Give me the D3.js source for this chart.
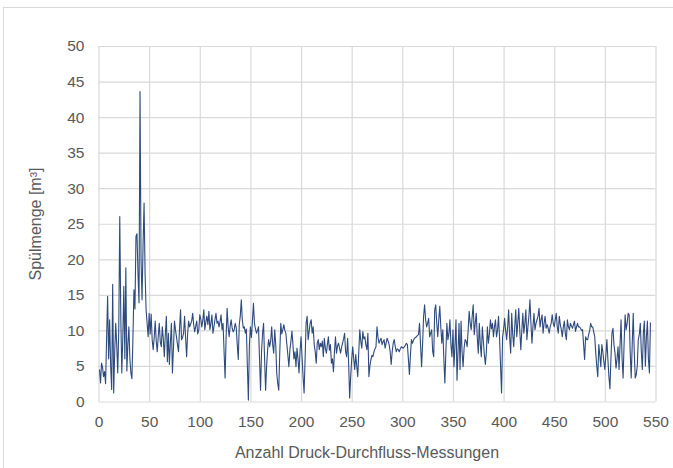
<!DOCTYPE html>
<html>
<head>
<meta charset="utf-8">
<script src="https://cdn.jsdelivr.net/npm/d3@7"></script>
<style>
  body { margin: 0; background: #fff; }
  text { font-family: "Liberation Sans", Arial, sans-serif; }
</style>
</head>
<body>
<div id="chart"></div>
<script>
const width = 673;
const height = 468;

// Spülmenge pro Messung (Messung 1, 2, 3, ...)
const spuelmenge = [
  4.5, 2.6, 5.4, 4.8, 3.5, 4.2, 2.5, 9, 14.8, 6,
  11.5, 5, 1.7, 16.5, 1.2, 7, 11, 8, 4, 10,
  26, 12, 4, 9, 16.2, 6, 18.8, 4.3, 8, 10.5,
  6, 4, 3.2, 9, 15.7, 13, 23.2, 23.6, 18, 13.9,
  43.6, 20, 14.3, 22, 27.9, 18, 12.9, 11, 9.1, 12.4,
  9.5, 12.3, 8.7, 7.3, 9.0, 11.3, 8.5, 7.0, 9.2, 11.0,
  8.4, 7.7, 10.5, 8.8, 6.3, 9.5, 12.0, 5.6, 9.6, 5.2,
  8.3, 11.0, 4.0, 7.5, 11.3, 10.1, 9.1, 8.0, 7.0, 10.2,
  12.9, 8.7, 9.0, 9.6, 12.0, 9.0, 6.3, 9.5, 11.3, 10.5,
  10.9, 11.3, 12.4, 10.8, 9.8, 10.6, 11.3, 9.5, 10.0, 12.2,
  11.6, 10.5, 11.4, 12.9, 10.1, 11.2, 12.0, 10.8, 12.7, 10.1,
  11.0, 12.2, 9.6, 10.5, 11.5, 12.4, 11.0, 11.3, 10.5, 11.2,
  12.2, 10.1, 11.0, 7.0, 3.3, 9.0, 13.1, 10.5, 9.1, 10.6,
  11.5, 10.3, 9.8, 10.1, 11.0, 10.4, 8.0, 5.9, 10.8, 12.0,
  14.3, 11.5, 10.3, 10.5, 9.6, 10.2, 5.0, 0.2, 8.0, 10.5,
  9.0, 11.3, 13.8, 11.0, 10.2, 9.6, 10.0, 10.5, 6.0, 1.6,
  7.0, 9.6, 11.0, 6.0, 1.6, 5.0, 7.3, 8.7, 7.7, 8.5,
  10.5, 8.0, 6.8, 10.1, 8.0, 4.0, 2.5, 1.6, 7.0, 11.0,
  9.5, 10.1, 10.8, 10.0, 9.6, 8.0, 6.5, 4.9, 7.3, 8.5,
  9.9, 8.0, 6.0, 7.0, 4.9, 7.5, 6.0, 4.0, 7.0, 9.1,
  6.3, 3.5, 1.2, 6.0, 11.0, 12.0, 8.7, 9.9, 11.0, 11.5,
  9.6, 10.5, 8.0, 7.0, 5.4, 8.2, 8.7, 7.3, 8.2, 7.7,
  8.5, 6.3, 8.9, 7.5, 6.8, 8.0, 9.1, 7.2, 8.0, 5.4,
  6.0, 4.2, 7.0, 9.1, 6.8, 7.8, 8.2, 7.5, 6.8, 7.6,
  8.2, 8.8, 9.6, 7.0, 6.3, 8.9, 5.4, 0.5, 3.5, 5.9,
  7.7, 6.0, 4.5, 6.6, 5.0, 3.5, 7.0, 10.1, 8.5, 7.5,
  9.85, 8.8, 9.1, 8.0, 7.3, 9.6, 3.5, 5.0, 5.9, 6.5,
  6.3, 7.0, 7.4, 7.7, 10.5, 9.0, 8.2, 8.6, 8.9, 8.0,
  8.4, 8.7, 7.5, 8.2, 8.9, 8.5, 8.0, 7.0, 5.2, 7.0,
  8.2, 8.7, 7.8, 7.0, 7.4, 7.3, 7.0, 7.4, 7.7, 7.6,
  7.5, 7.7, 7.9, 8.2, 8.0, 6.0, 3.8, 6.5, 8.7, 8.2,
  8.6, 8.9, 9.0, 9.1, 9.3, 9.4, 11.0, 8.0, 4.9, 8.0,
  12.0, 13.6, 11.5, 10.5, 11.0, 11.7, 9.1, 9.6, 10.1, 7.0,
  6.3, 12.9, 13.6, 11.0, 9.1, 11.5, 13.4, 10.5, 8.2, 10.1,
  6.0, 2.6, 7.0, 11.0, 8.7, 9.5, 11.5, 8.0, 6.3, 10.1,
  4.9, 8.0, 11.5, 3.0, 7.0, 11.0, 4.5, 11.3, 7.0, 4.9,
  7.5, 8.7, 8.5, 7.7, 10.0, 12.7, 11.0, 10.1, 12.0, 13.6,
  9.4, 11.0, 12.4, 9.0, 6.8, 11.0, 8.0, 6.3, 10.5, 8.5,
  6.6, 5.2, 7.0, 10.5, 8.2, 9.5, 11.5, 10.2, 11.0, 9.1,
  10.5, 11.5, 9.1, 10.0, 12.0, 9.0, 5.0, 1.2, 9.1, 10.1,
  11.7, 10.0, 8.7, 10.5, 12.9, 9.0, 6.8, 12.4, 9.5, 7.7,
  10.5, 12.9, 9.1, 11.0, 13.1, 10.0, 7.3, 10.0, 12.4, 9.6,
  11.0, 12.9, 8.7, 10.5, 12.0, 14.3, 11.0, 8.2, 10.5, 12.4,
  10.1, 11.0, 11.5, 12.0, 13.1, 10.5, 11.5, 12.2, 9.6, 11.0,
  12.0, 10.3, 10.8, 10.3, 9.6, 10.5, 11.0, 12.2, 11.0, 10.5,
  11.5, 12.4, 10.5, 9.6, 12.0, 10.8, 10.1, 9.1, 10.5, 11.3,
  9.5, 8.7, 11.5, 10.5, 10.1, 11.0, 10.6, 10.3, 10.8, 11.3,
  9.85, 10.5, 11.0, 10.5, 10.5, 10.3, 10.0, 10.1, 8.0, 5.9,
  9.1, 8.7, 8.7, 9.4, 10.0, 11.0, 10.5, 10.5, 9.8, 9.1,
  6.8, 5.0, 3.5, 8.0, 6.5, 4.9, 8.0, 7.0, 5.6, 4.5,
  6.5, 8.7, 5.9, 3.5, 1.8, 6.0, 9.6, 10.3, 8.0, 6.8,
  4.7, 6.0, 7.7, 4.5, 8.0, 11.5, 6.0, 3.3, 8.2, 12.2,
  10.1, 11.0, 12.4, 12.2, 7.0, 3.3, 8.0, 12.4, 7.0, 3.3,
  3.8, 5.0, 8.7, 9.4, 11.0, 7.0, 4.5, 9.6, 11.3, 5.0,
  9.0, 11.3, 6.0, 4.0, 11.1
];

const xTicks = [0, 50, 100, 150, 200, 250, 300, 350, 400, 450, 500, 550];
const yTicks = [0, 5, 10, 15, 20, 25, 30, 35, 40, 45, 50];
const xTitle = "Anzahl Druck-Durchfluss-Messungen";
const yTitle = "Spülmenge [m³]";

const svg = d3.select("#chart")
  .append("svg")
  .attr("width", width)
  .attr("height", height);

// outer chart frame (partly cut off in the original)
svg.append("rect")
  .attr("x", 3.5)
  .attr("y", 7.5)
  .attr("width", 720)
  .attr("height", 500)
  .attr("fill", "none")
  .attr("stroke", "#d9d9d9");

const x = d3.scaleLinear()
  .domain([0, 550])
  .range([98.5, 655.5]);

const y = d3.scaleLinear()
  .domain([0, 50])
  .range([401.5, 46]);

const plotW = x(550) - x(0);
const plotH = y(0) - y(50);

const yAxis = g => g
  .attr("transform", "translate(" + x(0) + ",0)")
  .call(d3.axisLeft(y).tickValues(yTicks).tickSize(-plotW).tickPadding(14))
  .call(g => g.select(".domain").remove());

const xAxis = g => g
  .attr("transform", "translate(0," + y(0) + ")")
  .call(d3.axisBottom(x).tickValues(xTicks).tickSize(-plotH).tickPadding(14))
  .call(g => g.select(".domain").remove());

svg.append("g").attr("class", "y-axis").call(yAxis);
svg.append("g").attr("class", "x-axis").call(xAxis);

svg.selectAll(".tick line")
  .attr("stroke", "#d9d9d9")
  .attr("stroke-width", 1.2);

svg.selectAll(".tick text")
  .attr("fill", "#595959")
  .style("font-size", "15.5px")
  .style("font-family", "'Liberation Sans', Arial, sans-serif");

const line = d3.line()
  .x((d, i) => x(i + 1))
  .y(d => y(d));

svg.append("path")
  .datum(spuelmenge)
  .attr("fill", "none")
  .attr("stroke", "#2e4a7d")
  .attr("stroke-width", 1.1)
  .attr("stroke-linejoin", "round")
  .attr("d", line);

svg.append("text")
  .attr("x", 367)
  .attr("y", 458)
  .attr("text-anchor", "middle")
  .attr("fill", "#595959")
  .style("font-size", "16px")
  .text(xTitle);

svg.append("text")
  .attr("transform", "translate(35,224) rotate(-90)")
  .attr("text-anchor", "middle")
  .attr("dy", "0.35em")
  .attr("fill", "#595959")
  .style("font-size", "16px")
  .text(yTitle);
</script>
</body>
</html>
